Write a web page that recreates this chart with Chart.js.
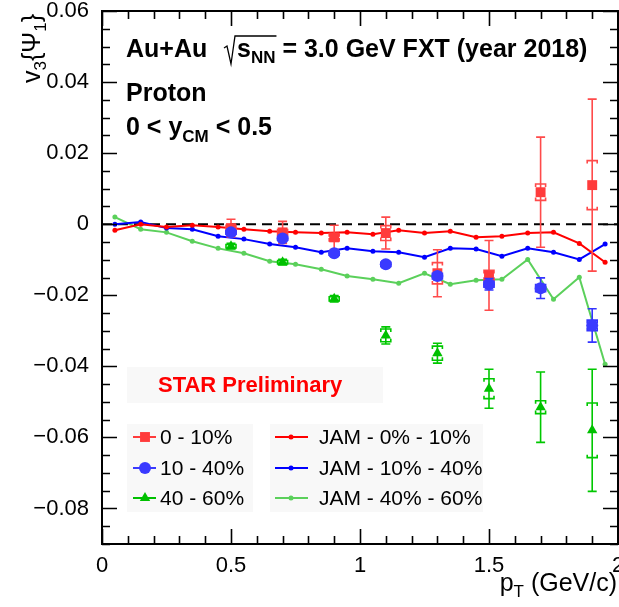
<!DOCTYPE html>
<html>
<head>
<meta charset="utf-8">
<script src="https://cdn.jsdelivr.net/npm/chart.js@4/dist/chart.umd.min.js"></script>
<style>
  html, body { margin: 0; padding: 0; background: #fff; }
  canvas { display: block; }
</style>
</head>
<body>
<canvas id="c" width="619" height="607"></canvas>
<script>
// Measured pT bins (GeV/c)
const ptData = [0.5, 0.7, 0.9, 1.1, 1.3, 1.5, 1.7, 1.9];

// v3{Psi1}, 0-10% centrality: value, statistical and systematic errors
const v3Cent0010 = [-0.0011, -0.0023, -0.0037, -0.0025, -0.0138, -0.0144, 0.0090, 0.0110];
const stat0010   = [0.0025, 0.0031, 0.0034, 0.0045, 0.0066, 0.0098, 0.0155, 0.0242];
const sys0010    = [0.0008, 0.0008, 0.0010, 0.0021, 0.0030, 0.0014, 0.0023, 0.0069];

// 10-40% centrality
const v3Cent1040 = [-0.0023, -0.0040, -0.0082, -0.0113, -0.0146, -0.0169, -0.0180, -0.0285];
const stat1040   = [0.0008, 0.0008, 0.0008, 0.0009, 0.0010, 0.0016, 0.0029, 0.0047];
const sys1040    = [0.0005, 0.0005, 0.0005, 0.0006, 0.0008, 0.0008, 0.0010, 0.0015];

// 40-60% centrality
const v3Cent4060 = [-0.0062, -0.0107, -0.0210, -0.0313, -0.0363, -0.0463, -0.0515, -0.0580];
const stat4060   = [0.0008, 0.0008, 0.0009, 0.0024, 0.0028, 0.0055, 0.0099, 0.0172];
const sys4060    = [0.0005, 0.0005, 0.0006, 0.0018, 0.0020, 0.0028, 0.0018, 0.0077];

// JAM model curves
const ptJam   = [0.05, 0.15, 0.25, 0.35, 0.45, 0.55, 0.65, 0.75, 0.85, 0.95,
                 1.05, 1.15, 1.25, 1.35, 1.45, 1.55, 1.65, 1.75, 1.85, 1.95];
const jam0010 = [-0.0017, 0.0000, -0.0008, -0.0003, -0.0008, -0.0014, -0.0020, -0.0023, -0.0025, -0.0023,
                 -0.0028, -0.0017, -0.0025, -0.0020, -0.0037, -0.0034, -0.0025, -0.0023, -0.0054, -0.0107];
const jam1040 = [0.0000, 0.0006, -0.0011, -0.0014, -0.0034, -0.0042, -0.0056, -0.0065, -0.0079, -0.0068,
                 -0.0076, -0.0079, -0.0093, -0.0068, -0.0070, -0.0090, -0.0068, -0.0079, -0.0099, -0.0056];
const jam4060 = [0.0020, -0.0014, -0.0023, -0.0048, -0.0068, -0.0082, -0.0104, -0.0113, -0.0127, -0.0146,
                 -0.0155, -0.0166, -0.0138, -0.0169, -0.0158, -0.0155, -0.0099, -0.0211, -0.0149, -0.0394];

// Axis ticks
const yTickValues = [-0.08, -0.06, -0.04, -0.02, 0, 0.02, 0.04, 0.06];
const xTickValues = [0, 0.5, 1, 1.5, 2];

const FONT = '"Liberation Sans", Arial, Helvetica, sans-serif';
const pts = (xs, ys) => xs.map((x, i) => ({ x, y: ys[i] }));

function fmtY(v) {
  if (Math.abs(v) < 1e-9) return '0';
  return (v < 0 ? '\u2212' : '') + Math.abs(v).toFixed(2);
}

// Draws a run of text pieces: [text, font, dy]
function richText(ctx, x, y, parts) {
  let cx = x;
  for (const [t, f, dy] of parts) {
    ctx.font = f;
    ctx.fillText(t, cx, y + (dy || 0));
    cx += ctx.measureText(t).width;
  }
  return cx;
}
function richWidth(ctx, parts) {
  let w = 0;
  for (const [t, f] of parts) { ctx.font = f; w += ctx.measureText(t).width; }
  return w;
}

// Faint panels and the dashed zero line under the data
const backdrop = {
  id: 'backdrop',
  beforeDatasetsDraw(chart) {
    const { ctx, chartArea: a, scales: { y } } = chart;
    ctx.save();
    ctx.fillStyle = '#f8f8f8';
    ctx.fillRect(127, 367, 256, 36);
    ctx.fillRect(127, 424, 126, 88);
    ctx.fillRect(270, 424, 213, 88);
    const y0 = y.getPixelForValue(0);
    ctx.strokeStyle = '#000';
    ctx.lineWidth = 2;
    ctx.setLineDash([10, 6]);
    ctx.beginPath();
    ctx.moveTo(a.left, y0);
    ctx.lineTo(a.right, y0);
    ctx.stroke();
    ctx.restore();
  }
};

// Statistical bars with caps and systematic brackets, under each marker set
const errorBars = {
  id: 'errorBars',
  beforeDatasetDraw(chart, args) {
    const ds = chart.data.datasets[args.index];
    if (!ds.stat) return;
    const { ctx, scales: { x, y } } = chart;
    ctx.save();
    ctx.strokeStyle = ds.errColor;
    ctx.lineWidth = 1.6;
    ds.data.forEach((p, i) => {
      const px = x.getPixelForValue(p.x);
      const lo = y.getPixelForValue(p.y - ds.stat[i]);
      const hi = y.getPixelForValue(p.y + ds.stat[i]);
      ctx.beginPath();
      ctx.moveTo(px, lo); ctx.lineTo(px, hi);
      ctx.moveTo(px - 4.5, lo); ctx.lineTo(px + 4.5, lo);
      ctx.moveTo(px - 4.5, hi); ctx.lineTo(px + 4.5, hi);
      ctx.stroke();
      const sl = y.getPixelForValue(p.y - ds.sys[i]);
      const sh = y.getPixelForValue(p.y + ds.sys[i]);
      ctx.beginPath();
      ctx.moveTo(px - 5, sh + 3); ctx.lineTo(px - 5, sh); ctx.lineTo(px + 5, sh); ctx.lineTo(px + 5, sh + 3);
      ctx.moveTo(px - 5, sl - 3); ctx.lineTo(px - 5, sl); ctx.lineTo(px + 5, sl); ctx.lineTo(px + 5, sl - 3);
      ctx.stroke();
    });
    ctx.restore();
  }
};

// Frame, inward ticks, titles, annotations and legend
const decorations = {
  id: 'decorations',
  afterDraw(chart) {
    const { ctx, chartArea: a, scales: { x, y } } = chart;
    ctx.save();
    ctx.strokeStyle = '#000';
    ctx.lineWidth = 2;
    ctx.strokeRect(a.left, a.top, a.right - a.left, a.bottom - a.top);

    ctx.lineWidth = 1.6;
    ctx.beginPath();
    for (let i = -18; i <= 12; i++) {
      const v = i * 0.005;
      const py = Math.round(y.getPixelForValue(v)) + 0.5;
      const len = (i % 4 === 0) ? 15 : 8;
      ctx.moveTo(a.left, py); ctx.lineTo(a.left + len, py);
      ctx.moveTo(a.right, py); ctx.lineTo(a.right - len, py);
    }
    for (let i = 0; i <= 20; i++) {
      const px = Math.round(x.getPixelForValue(i * 0.1)) + 0.5;
      const len = (i % 5 === 0) ? 15 : 8;
      ctx.moveTo(px, a.bottom); ctx.lineTo(px, a.bottom - len);
      ctx.moveTo(px, a.top); ctx.lineTo(px, a.top + len);
    }
    ctx.stroke();

    ctx.fillStyle = '#000';
    ctx.textBaseline = 'alphabetic';
    ctx.textAlign = 'left';

    // Header lines
    const B = 'bold 25px ' + FONT, BS = 'bold 17px ' + FONT;
    richText(ctx, 126, 57, [['Au+Au', B]]);
    const sx = 224;
    const sEnd = richText(ctx, sx + 13, 57, [['s', B], ['NN', BS, 6]]);
    ctx.lineWidth = 1.3;
    ctx.beginPath();
    ctx.moveTo(sx, 48); ctx.lineTo(sx + 3, 46); ctx.lineTo(sx + 7, 64);
    ctx.lineTo(sx + 11, 36); ctx.lineTo(sEnd + 1, 36);
    ctx.stroke();
    richText(ctx, sEnd, 57, [[' = 3.0 GeV FXT (year 2018)', B]]);
    richText(ctx, 126, 101, [['Proton', B]]);
    richText(ctx, 126, 135, [['0 < y', B], ['CM', BS, 7], [' < 0.5', B]]);

    // Preliminary label
    ctx.fillStyle = '#ff0000';
    ctx.font = 'bold 22px ' + FONT;
    ctx.fillText('STAR Preliminary', 158, 392);

    // Axis titles
    ctx.fillStyle = '#000';
    const T = '25px ' + FONT, TS = '17px ' + FONT;
    const xt = [['p', T], ['T', TS, 6], [' (GeV/c)', T]];
    richText(ctx, 617 - richWidth(ctx, xt), 591, xt);

    const YT = '25px ' + FONT, YTS = '17px ' + FONT;
    ctx.save();
    ctx.translate(40, 83);
    ctx.rotate(-Math.PI / 2);
    richText(ctx, 0, 0, [['v', YT], ['3', YTS, 6], ['{\u03A8', YT], ['1', YTS, 6], ['}', YT]]);
    ctx.restore();

    // Legend
    const L = '21px ' + FONT;
    const rows = [437, 468, 498];
    const dataStyles = [
      { c: '#ff3b3b', shape: 'rect', label: '0 - 10%' },
      { c: '#3a3aff', shape: 'circle', label: '10 - 40%' },
      { c: '#00c000', shape: 'triangle', label: '40 - 60%' }
    ];
    const jamStyles = [
      { c: '#ff0000', label: 'JAM - 0% - 10%' },
      { c: '#0000ff', label: 'JAM - 10% - 40%' },
      { c: '#5bd05b', label: 'JAM - 40% - 60%' }
    ];
    ctx.textBaseline = 'middle';
    ctx.font = L;
    rows.forEach((ry, k) => {
      const d = dataStyles[k];
      ctx.strokeStyle = d.c; ctx.fillStyle = d.c; ctx.lineWidth = 2;
      ctx.beginPath(); ctx.moveTo(133, ry); ctx.lineTo(156, ry); ctx.stroke();
      Chart.helpers.drawPoint(ctx, {
        pointStyle: d.shape, radius: d.shape === 'rect' ? 7 : 6, rotation: 0, borderWidth: 0
      }, 145, ry);
      ctx.fillStyle = '#000';
      ctx.fillText(d.label, 160, ry + 1);

      const j = jamStyles[k];
      ctx.strokeStyle = j.c; ctx.fillStyle = j.c; ctx.lineWidth = 2;
      ctx.beginPath(); ctx.moveTo(275, ry); ctx.lineTo(308, ry); ctx.stroke();
      ctx.beginPath(); ctx.arc(291, ry, 2.5, 0, Math.PI * 2); ctx.fill();
      ctx.fillStyle = '#000';
      ctx.fillText(j.label, 319, ry + 1);
    });
    ctx.restore();
  }
};

const chart = new Chart(document.getElementById('c'), {
  type: 'scatter',
  data: {
    datasets: [
      { label: '40 - 60%', data: pts(ptData, v3Cent4060), stat: stat4060, sys: sys4060, errColor: '#00c800',
        pointStyle: 'triangle', pointRadius: 6, backgroundColor: '#00c000', borderWidth: 0, showLine: false, order: 0 },
      { label: '10 - 40%', data: pts(ptData, v3Cent1040), stat: stat1040, sys: sys1040, errColor: '#3333ff',
        pointStyle: 'circle', pointRadius: 6, backgroundColor: '#3a3aff', borderWidth: 0, showLine: false, order: 1 },
      { label: '0 - 10%', data: pts(ptData, v3Cent0010), stat: stat0010, sys: sys0010, errColor: '#ff4a4a',
        pointStyle: 'rect', pointRadius: 7, backgroundColor: '#ff3b3b', borderWidth: 0, showLine: false, order: 2 },
      { label: 'JAM - 0% - 10%', type: 'line', data: pts(ptJam, jam0010), borderColor: '#ff0000',
        backgroundColor: '#ff0000', borderWidth: 2, pointRadius: 2.5, pointBorderWidth: 0, tension: 0, order: 3 },
      { label: 'JAM - 10% - 40%', type: 'line', data: pts(ptJam, jam1040), borderColor: '#0000ff',
        backgroundColor: '#0000ff', borderWidth: 2, pointRadius: 2.5, pointBorderWidth: 0, tension: 0, order: 4 },
      { label: 'JAM - 40% - 60%', type: 'line', data: pts(ptJam, jam4060), borderColor: '#5bd05b',
        backgroundColor: '#5bd05b', borderWidth: 2, pointRadius: 2.5, pointBorderWidth: 0, tension: 0, order: 5 }
    ]
  },
  options: {
    responsive: false,
    devicePixelRatio: 1,
    animation: false,
    layout: { autoPadding: false, padding: { left: 0, top: 11, right: 1, bottom: 0 } },
    plugins: { legend: { display: false }, tooltip: { enabled: false } },
    scales: {
      x: {
        type: 'linear', min: 0, max: 2,
        grid: { display: false }, border: { display: false },
        afterBuildTicks: s => { s.ticks = xTickValues.map(v => ({ value: v })); },
        afterFit: s => { s.height = 63; s.paddingLeft = 0; s.paddingRight = 0; },
        ticks: { color: '#000', font: { family: FONT, size: 22 }, padding: 1, maxRotation: 0, autoSkip: false,
                 callback: v => String(v) }
      },
      y: {
        type: 'linear', min: -0.09, max: 0.06,
        grid: { display: false }, border: { display: false },
        afterBuildTicks: s => { s.ticks = yTickValues.map(v => ({ value: v })); },
        afterFit: s => { s.width = 102; s.paddingTop = 0; s.paddingBottom = 0; },
        ticks: { color: '#000', font: { family: FONT, size: 22 }, padding: 5, autoSkip: false,
                 callback: v => fmtY(v) }
      }
    }
  },
  plugins: [backdrop, errorBars, decorations]
});
</script>
</body>
</html>
